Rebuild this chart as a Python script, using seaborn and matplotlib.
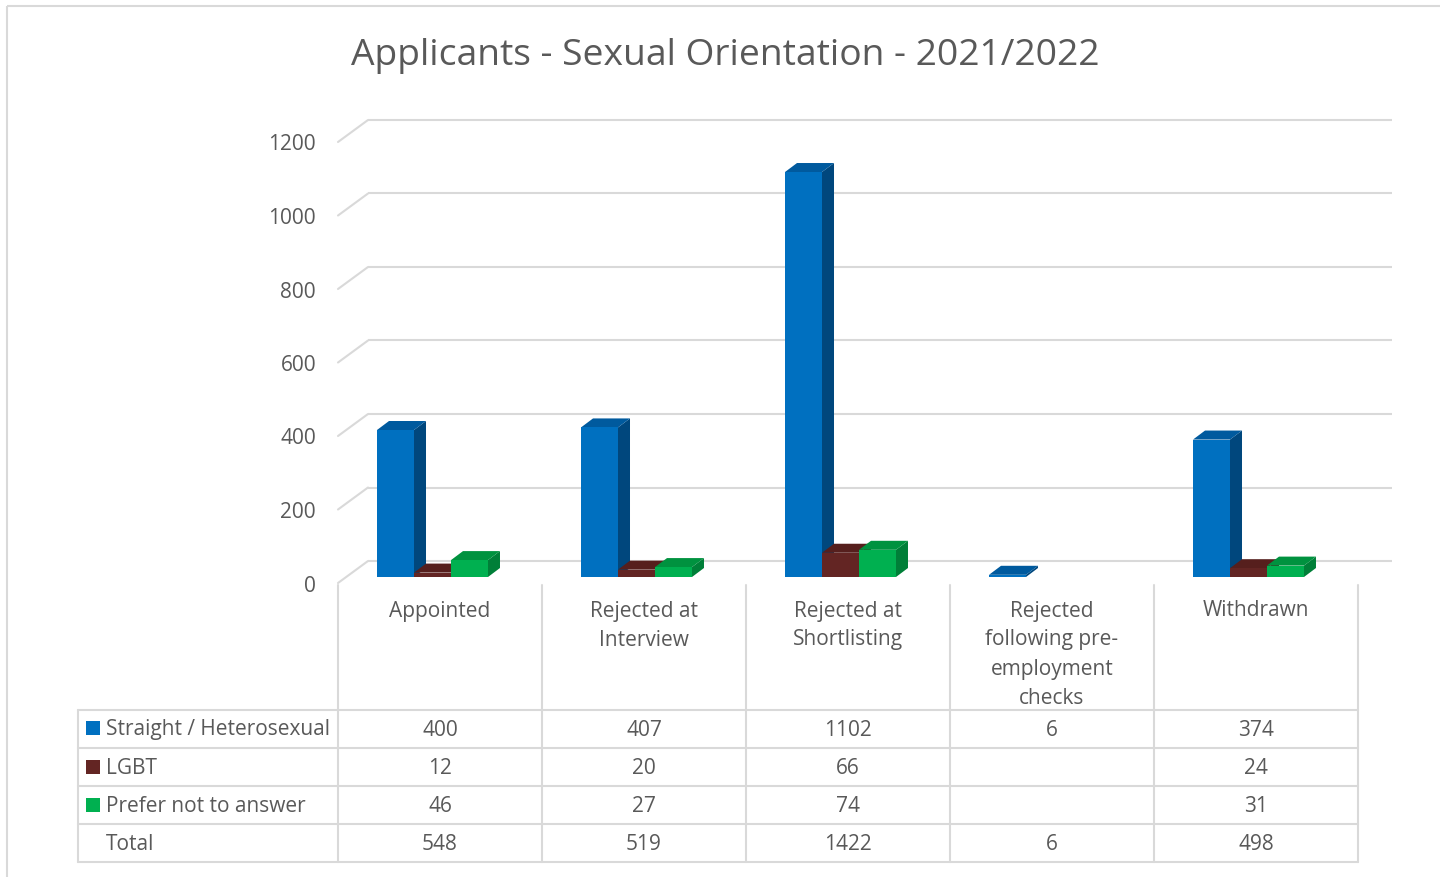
import numpy as np
import pandas as pd
import matplotlib
matplotlib.use("Agg")
import matplotlib.pyplot as plt
from matplotlib.patches import Polygon, Rectangle
from matplotlib.colors import to_hex
import seaborn as sns

# ---- data -------------------------------------------------------------
categories = ["Appointed", "Rejected at\nInterview", "Rejected at\nShortlisting",
              "Rejected\nfollowing pre-\nemployment\nchecks", "Withdrawn"]
series = ["Straight / Heterosexual", "LGBT", "Prefer not to answer"]
straight = [400, 407, 1102, 6, 374]
lgbt = [12, 20, 66, None, 24]
prefer_not = [46, 27, 74, None, 31]
totals = [548, 519, 1422, 6, 498]
y_ticks = [0, 200, 400, 600, 800, 1000, 1200]
title = "Applicants - Sexual Orientation - 2021/2022"

# ---- style ------------------------------------------------------------
front_colors = ["#0070C0", "#632523", "#00B050"]
side_colors = ["#00477D", "#4A1A19", "#007F38"]
top_colors = ["#005A9E", "#561F1D", "#00923F"]
text_color = "#595959"
line_color = "#D9D9D9"
FONT = ["Open Sans", "DejaVu Sans"]
FS = 15

sns.set_theme(style="white")
plt.rcParams["font.family"] = FONT

W, H = 1440, 877
fig = plt.figure(figsize=(W / 100, H / 100), dpi=100)
fig.patch.set_facecolor("white")

# plot-area geometry (pixels)
COL_W = 204                 # width of one category / table column
TABLE_LEFT = 338            # left edge of the first category column
GROUP_SHIFT = -7.5          # bar groups sit slightly left of column centre
PX_PER_VAL = 0.3675         # vertical pixels per unit
BASE_Y = 577                # pixel row of value 0 on the bar faces
AX_RIGHT, AX_TOP = 1392, 100

c0 = TABLE_LEFT + COL_W / 2 + GROUP_SHIFT
ax = fig.add_axes([TABLE_LEFT / W, (H - BASE_Y) / H,
                   (AX_RIGHT - TABLE_LEFT) / W, (BASE_Y - AX_TOP) / H])
XLIM = ((TABLE_LEFT - c0) / COL_W, (AX_RIGHT - c0) / COL_W)
YLIM = (0, (BASE_Y - AX_TOP) / PX_PER_VAL)


def dx(px):
    return px / COL_W


def dy(px):
    return px / PX_PER_VAL


# depth offsets relative to the bar faces (pixels: right, up)
FRONT_OFF = (-8, -6)
BACK_OFF = (22, 16)
BAR_DEPTH = (12, 9)

# ---- bars ---------------------------------------------------------------
rows = []
for ci, cat in enumerate(categories):
    for si, vals in enumerate([straight, lgbt, prefer_not]):
        if vals[ci] is not None:
            rows.append({"category": cat, "series": series[si], "value": vals[ci]})
df = pd.DataFrame(rows)

sns.barplot(data=df, x="category", y="value", hue="series",
            order=categories, hue_order=series,
            palette=dict(zip(series, front_colors)), saturation=1,
            width=0.544, errorbar=None, legend=False, ax=ax)
ax.set_xlim(*XLIM)
ax.set_ylim(*YLIM)
ax.axis("off")

# ---- back wall gridlines, left depth edges and value labels -------------
x_front = XLIM[0]
x_back = x_front + dx(BACK_OFF[0] - FRONT_OFF[0])
for v in y_ticks:
    yb = v + dy(BACK_OFF[1])
    yf = v + dy(FRONT_OFF[1])
    ax.plot([x_back, XLIM[1]], [yb, yb], color=line_color, lw=1.5,
            zorder=0.5, clip_on=False, solid_capstyle="butt")
    ax.plot([x_front, x_back], [yf, yb], color=line_color, lw=1.5,
            zorder=0.5, clip_on=False)
    ax.text(x_front - dx(22), yf - dy(3), f"{v}", ha="right", va="center",
            fontsize=FS, color=text_color)

# 3-D sides and tops for each bar
bars = sorted([p for p in ax.patches if p.get_height() == p.get_height()],
              key=lambda p: p.get_x())
front_hex = [c.lower() for c in front_colors]
bdx, bdy = dx(BAR_DEPTH[0]), dy(BAR_DEPTH[1])
for k, p in enumerate(bars):
    si = front_hex.index(to_hex(p.get_facecolor()).lower())
    x0, w, h = p.get_x(), p.get_width(), p.get_height()
    x1 = x0 + w
    side = Polygon([(x1, 0), (x1 + bdx, bdy), (x1 + bdx, h + bdy), (x1, h)],
                   closed=True, facecolor=side_colors[si], edgecolor="none",
                   zorder=2 + 2 * k)
    top = Polygon([(x0, h), (x1, h), (x1 + bdx, h + bdy), (x0 + bdx, h + bdy)],
                  closed=True, facecolor=top_colors[si], edgecolor="none",
                  zorder=2 + 2 * k)
    ax.add_patch(side)
    ax.add_patch(top)
    p.set_zorder(3 + 2 * k)
    p.set_edgecolor("none")

# ---- overlay in pixel coordinates: title, data table, frame -------------
ov = fig.add_axes([0, 0, 1, 1])
ov.set_xlim(0, W)
ov.set_ylim(H, 0)
ov.axis("off")
ov.patch.set_visible(False)

ov.add_patch(Rectangle((7, 6), W, H, fill=False, edgecolor=line_color, lw=1.5))
ov.text(725, 56, title, ha="center", va="center", fontsize=26.8,
        color=text_color)

TABLE_X0 = 78
header_top, header_step = 611, 29
row_y = [730, 769, 807, 845]
hlines = [710, 748, 786, 824, 862]
ncol = len(categories)
table_right = TABLE_LEFT + COL_W * ncol

for y in hlines:
    ov.plot([TABLE_X0, table_right], [y, y], color=line_color, lw=1.5)
ov.plot([TABLE_X0, TABLE_X0], [hlines[0], hlines[-1]], color=line_color, lw=1.5)
for k in range(ncol + 1):
    x = TABLE_LEFT + COL_W * k
    ov.plot([x, x], [585, hlines[-1]], color=line_color, lw=1.5)

for ci, cat in enumerate(categories):
    cx = TABLE_LEFT + COL_W * ci + COL_W / 2
    for li, line in enumerate(cat.split("\n")):
        ov.text(cx, header_top + header_step * li, line, ha="center",
                va="center", fontsize=FS, color=text_color)
    for ri, vals in enumerate([straight, lgbt, prefer_not, totals]):
        if vals[ci] is not None:
            ov.text(cx, row_y[ri], f"{vals[ci]}", ha="center", va="center",
                    fontsize=FS, color=text_color)

for ri, name in enumerate(series + ["Total"]):
    if ri < len(series):
        ov.add_patch(Rectangle((86, row_y[ri] - 9), 14, 14,
                               facecolor=front_colors[ri], edgecolor="none"))
    ov.text(106, row_y[ri], name, ha="left", va="center", fontsize=FS,
            color=text_color)

fig.savefig("out.png", dpi=100, facecolor="white")
